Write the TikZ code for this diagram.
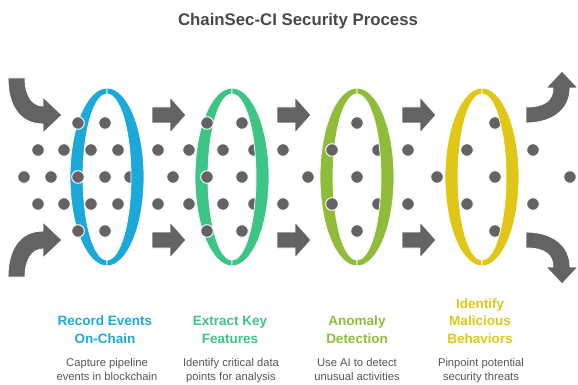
\documentclass[tikz,border=0pt]{standalone}
\usepackage{fontspec}
\setmainfont{Liberation Sans}
\definecolor{ringblue}{HTML}{1CA9DA}
\definecolor{ringgreen}{HTML}{3DC585}
\definecolor{ringlime}{HTML}{8FBD3A}
\definecolor{ringyellow}{HTML}{E0C717}
\definecolor{arrowgray}{HTML}{636363}
\definecolor{titlegray}{HTML}{484848}
\definecolor{descgray}{HTML}{555555}

% back (left) half of a tilted ring
\newcommand\ringBackHalf[2]{%
  \fill[#2, draw=white, line width=0.8pt]
    (#1,88) arc[start angle=90, end angle=270, x radius=37pt, y radius=89pt]
    -- (#1,260) arc[start angle=270, end angle=90, x radius=24pt, y radius=83pt]
    -- cycle;}
% front (right) half of a tilted ring
\newcommand\ringFrontHalf[2]{%
  \fill[#2, draw=white, line width=0.8pt]
    (#1,88) arc[start angle=90, end angle=-90, x radius=37pt, y radius=89pt]
    -- (#1,260) arc[start angle=-90, end angle=90, x radius=24pt, y radius=83pt]
    -- cycle;}

\tikzset{
  dotstyle/.style={fill=arrowgray, draw=white, line width=0.9pt},
  arrowshape/.style={fill=arrowgray, draw=white, line width=0.9pt},
  blockarrow/.pic={
    \path[arrowshape] (0,-8) -- (18,-8) -- (18,-18) -- (34,0) -- (18,18)
      -- (18,8) -- (0,8) -- cycle;
  },
  headtext/.style={font=\bfseries\fontsize{13.5}{17.3}\selectfont, align=center, anchor=base},
  desctext/.style={font=\fontsize{11.2}{13.6}\selectfont, text=descgray, align=center, anchor=base},
}

\begin{document}
\begin{tikzpicture}[x=1pt, y=-1pt]
\useasboundingbox (0,0) rectangle (578,385);

% title
\node[font=\bfseries\fontsize{16.8}{20}\selectfont, text=titlegray, anchor=base]
  (title) at (298,26) {ChainSec-CI Security Process};

% incoming curved arrows
\path[arrowshape] (8,78) -- (25,78) .. controls (25,95) and (32,106) .. (43,106)
  -- (43,97) -- (62,115) -- (43,133) -- (43,124)
  .. controls (20,124) and (8,106) .. (8,78) -- cycle;
\path[arrowshape] (8,277) -- (25,277) .. controls (25,260) and (32,249) .. (43,249)
  -- (43,258) -- (62,240) -- (43,222) -- (43,231)
  .. controls (20,231) and (8,249) .. (8,277) -- cycle;

% straight arrows between the stages
\foreach \ax in {152,277,402} {
  \pic at (\ax,115) {blockarrow};
  \pic at (\ax,240) {blockarrow};
}

% outgoing curved arrows
\path[arrowshape] (526,107) .. controls (545,107) and (553,100) .. (553,88)
  -- (546,88) -- (562,71) -- (578,88) -- (570,88)
  .. controls (570,110) and (552,123) .. (526,123) -- cycle;
\path[arrowshape] (526,248) .. controls (545,248) and (553,255) .. (553,267)
  -- (546,267) -- (562,284) -- (578,267) -- (570,267)
  .. controls (570,245) and (552,232) .. (526,232) -- cycle;

% back halves of the rings
\ringBackHalf{107}{ringblue}
\ringBackHalf{232}{ringgreen}
\ringBackHalf{357}{ringlime}
\ringBackHalf{482}{ringyellow}

% data points flowing through the rings
\foreach \dx/\dy in {
  38/150, 64/150, 38/204, 64/204, 24/177, 51/177,
  78/123, 105/123, 78/177, 105/177, 130/177, 78/231, 105/231,
  91/150, 118/150, 91/204, 118/204,
  158/150, 189/150, 158/204, 189/204, 173/177,
  207/123, 242/123, 207/177, 242/177, 207/231, 242/231,
  223/150, 254/150, 223/204, 254/204,
  283/150, 283/204, 308/177,
  357/123, 357/177, 357/231, 332/150, 378/150, 332/204, 378/204,
  408/150, 408/204, 437/177,
  495/123, 495/177, 495/231, 467/150, 467/204,
  533/150, 533/204, 570/177}
  \path[dotstyle] (\dx,\dy) circle[radius=6.3pt];

% front halves of the rings
\ringFrontHalf{107}{ringblue}
\ringFrontHalf{232}{ringgreen}
\ringFrontHalf{357}{ringlime}
\ringFrontHalf{482}{ringyellow}

% stage headings (anchored at the baseline of their last line)
\node[headtext, text=ringblue]   (h1) at (105,343) {Record Events\\On-Chain};
\node[headtext, text=ringgreen]  (h2) at (230,343) {Extract Key\\Features};
\node[headtext, text=ringlime]   (h3) at (357,343) {Anomaly\\Detection};
\node[headtext, text=ringyellow] (h4) at (480,343) {Identify\\Malicious\\Behaviors};

% stage descriptions
\node[desctext] (d1) at (107,380) {Capture pipeline\\events in blockchain};
\node[desctext] (d2) at (231,380) {Identify critical data\\points for analysis};
\node[desctext] (d3) at (357,380) {Use AI to detect\\unusual activities};
\node[desctext] (d4) at (481,380) {Pinpoint potential\\security threats};
\end{tikzpicture}
\end{document}
